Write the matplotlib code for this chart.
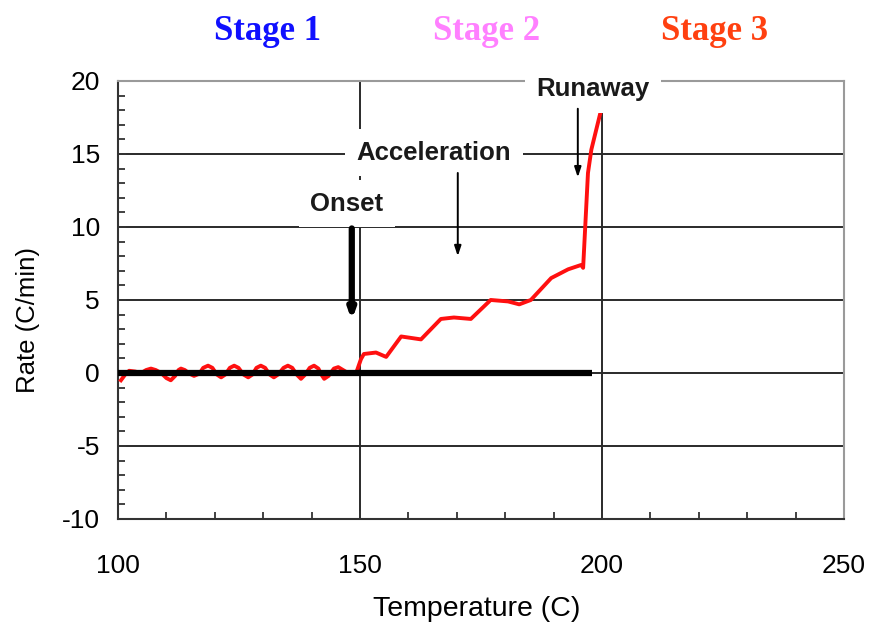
import matplotlib.pyplot as plt
from matplotlib.ticker import MultipleLocator

plt.rcParams['axes.unicode_minus'] = False

# Red self-heating rate curve
temp = [100.6, 101.5, 102.3, 103.5, 104.8, 105.8, 106.8, 107.8, 108.9, 110.0,
        110.9, 111.8, 112.5, 113.0, 113.8, 114.8, 115.7, 116.8, 117.6, 118.6,
        119.5, 120.4, 121.3, 122.2, 123.1, 124.0, 124.9, 125.9, 126.9, 127.8,
        128.6, 129.5, 130.4, 131.3, 132.2, 133.1, 134.2, 135.1, 136.0, 136.9,
        137.8, 138.7, 139.6, 140.5, 141.4, 142.0, 142.6, 143.5, 144.6, 145.5,
        146.5, 147.5, 149.2, 150.2, 150.8, 153.3, 155.4, 158.5, 162.6, 166.7,
        169.4, 172.9, 177.0, 180.6, 182.9, 185.3, 189.5, 193.0, 195.7, 196.1,
        197.1, 197.8, 199.8]
rate = [-0.5, -0.1, 0.15, 0.1, 0.0, 0.2, 0.3, 0.2, 0.0, -0.35,
        -0.5, -0.2, 0.2, 0.3, 0.2, -0.05, -0.2, -0.05, 0.35, 0.5,
        0.35, -0.1, -0.3, -0.1, 0.35, 0.5, 0.35, -0.1, -0.3, -0.1,
        0.35, 0.5, 0.35, -0.1, -0.3, -0.1, 0.35, 0.5, 0.35, -0.1,
        -0.4, -0.1, 0.35, 0.5, 0.3, -0.1, -0.4, -0.2, 0.3, 0.4,
        0.2, 0.0, 0.0, 0.95, 1.3, 1.4, 1.1, 2.5, 2.3, 3.7,
        3.8, 3.7, 5.0, 4.9, 4.7, 5.0, 6.5, 7.1, 7.4, 7.2,
        13.7, 15.3, 18.0]

# black zero baseline
base_temp = [100, 198]
base_rate = [0, 0]

# annotations: label, text position, arrow start, arrow end
labels = ['Onset', 'Acceleration', 'Runaway']
label_xy = [(147.3, 11.6), (165.3, 15.1), (198.1, 19.45)]
arrow_from = [(148.3, 9.9), (170.2, 13.7), (195.0, 18.1)]
arrow_to = [(148.3, 3.6), (170.2, 8.0), (195.0, 13.4)]

stages = ['Stage 1', 'Stage 2', 'Stage 3']
stage_colors = ['#1010ff', '#ff80ff', '#ff4010']
stage_x = [0.307, 0.559, 0.820]

fig = plt.figure(figsize=(8.71, 6.23), dpi=100)
ax = fig.add_axes([0.1355, 0.167, 0.8335, 0.703])

ax.set_xlim(100, 250)
ax.set_ylim(-10, 20)
ax.xaxis.set_major_locator(MultipleLocator(50))
ax.xaxis.set_minor_locator(MultipleLocator(10))
ax.yaxis.set_major_locator(MultipleLocator(5))
ax.yaxis.set_minor_locator(MultipleLocator(1))

ax.grid(True, which='major', color='#2a2a2a', lw=1.4, zorder=1)
ax.set_axisbelow(True)

for s in ['left', 'bottom']:
    ax.spines[s].set_color('#333333')
    ax.spines[s].set_linewidth(1.5)
for s in ['top', 'right']:
    ax.spines[s].set_color('#9a9a9a')
    ax.spines[s].set_linewidth(1.5)

ax.tick_params(axis='both', which='both', direction='in', color='#333333', width=1.3)
ax.tick_params(axis='both', which='major', length=6)
ax.tick_params(axis='both', which='minor', length=5)
ax.tick_params(axis='x', pad=25, labelsize=19)
ax.tick_params(axis='y', pad=13, labelsize=19)
for lab in ax.get_xticklabels() + ax.get_yticklabels():
    lab.set_fontfamily('Liberation Sans')

ax.set_xlabel('Temperature (C)', fontsize=20.5, family='Liberation Sans')
ax.set_ylabel('Rate (C/min)', fontsize=18.5, family='Liberation Sans')
ax.xaxis.set_label_coords(0.494, -0.176)
ax.yaxis.set_label_coords(-0.107, 0.455)

ax.plot(temp, rate, color='#ff1010', lw=2.8, zorder=4)
ax.plot(base_temp, base_rate, color='black', lw=4.5, solid_capstyle='butt', zorder=5)

for lab, xy in zip(labels, label_xy):
    ax.text(xy[0], xy[1], lab, ha='center', va='center', fontsize=18.5,
            family='Liberation Sans', weight='bold', color='#1a1a1a', zorder=6,
            clip_on=False,
            bbox=dict(boxstyle='square,pad=0.45', fc='white', ec='none'))

# Onset arrow is thick, the others are thin
widths = [4.5, 1.4, 1.4]
heads = ['-|>,head_length=0.5,head_width=0.18', '-|>,head_length=0.6,head_width=0.2',
         '-|>,head_length=0.6,head_width=0.2']
for p0, p1, w, h in zip(arrow_from, arrow_to, widths, heads):
    ax.annotate('', xy=p1, xytext=p0, zorder=7,
                arrowprops=dict(arrowstyle=h, lw=w, color='black',
                                shrinkA=0, shrinkB=0, mutation_scale=10))

for st, c, x in zip(stages, stage_colors, stage_x):
    fig.text(x, 0.936, st, ha='center', va='baseline', fontsize=25,
             family='Liberation Serif', weight='bold', color=c)

fig.savefig('out.png', dpi=100)
